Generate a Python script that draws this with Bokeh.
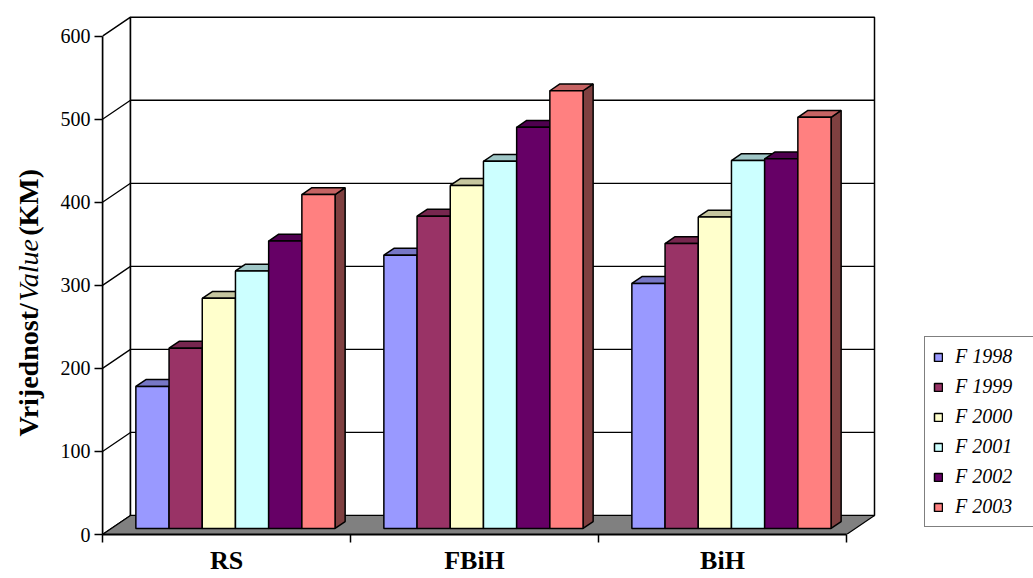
import numpy as np
from bokeh.plotting import figure
from bokeh.layouts import row
from bokeh.models import Range1d, FixedTicker, Legend, LegendItem
from bokeh.core.properties import value
from bokeh.embed import file_html
from bokeh.resources import INLINE

# ---------------- data ----------------
categories = ["RS", "FBiH", "BiH"]
series = ["F 1998", "F 1999", "F 2000", "F 2001", "F 2002", "F 2003"]
f1998 = [171, 329, 295]
f1999 = [217, 376, 343]
f2000 = [277, 413, 375]
f2001 = [310, 442, 443]
f2002 = [346, 483, 445]
f2003 = [402, 527, 495]
y_ticks = [0, 100, 200, 300, 400, 500, 600]
values = [f1998, f1999, f2000, f2001, f2002, f2003]
title_parts = ["Vrijednost/", "Value", " (KM)"]
title_styles = ["bold", "italic", "bold"]

front_colors = ["#9999FF", "#993366", "#FFFFCC", "#CCFFFF", "#660066", "#FF8080"]


def shade(hexcol, k):
    h = hexcol.lstrip("#")
    r, g, b = (int(h[i:i + 2], 16) for i in (0, 2, 4))
    return "#%02x%02x%02x" % (int(r * k), int(g * k), int(b * k))


top_colors = [shade(c, 0.78) for c in front_colors]
side_colors = [shade(c, 0.5) for c in front_colors]

# ---------------- layout ----------------
W, H = 1033, 578
TW = 50                      # width of the title strip
FL, FB = 52, 44
PX_X = 248.0                 # px per category
PX_Y = 498.3 / 600.0         # px per value unit
MW = W - TW
frame_w = MW - FL
frame_h = H - FB

# ---- main chart ----
p = figure(width=MW, height=H, output_backend="svg", toolbar_location=None,
           x_range=Range1d(0, frame_w / PX_X), y_range=Range1d(0, frame_h / PX_Y),
           min_border_left=FL, min_border_right=0, min_border_top=0,
           min_border_bottom=FB, background_fill_color="white",
           border_fill_color="white", outline_line_color=None)
p.xgrid.visible = False
p.ygrid.visible = False

# ---- title strip (mixed-style rotated axis title), shares the value scale ----
t = figure(width=TW, height=H, output_backend="svg", toolbar_location=None,
           x_range=Range1d(0, TW), y_range=p.y_range,
           min_border_left=0, min_border_right=0, min_border_top=0,
           min_border_bottom=FB, x_axis_location=None, y_axis_location=None,
           outline_line_color=None, background_fill_color="white",
           border_fill_color="white")
t.xgrid.visible = False
t.ygrid.visible = False
TF = 28
em_w = [4.833, 2.333, 2.638]
ypos = 98.0 / PX_Y           # start of the title, 98 px above the value axis origin
for txt, sty, em in zip(title_parts, title_styles, em_w):
    t.text(x=[28], y=[ypos], text=[txt], angle=np.pi / 2, text_align="left",
           text_baseline="middle", text_font=value("Liberation Serif"),
           text_font_style=sty, text_font_size="%dpx" % TF, text_color="black")
    ypos += em * TF / PX_Y

ncat = len(categories)
top_v = y_ticks[-1]
ddx = 28.0 / PX_X
ddy = 19.0 / PX_Y

# walls and floor
p.patch([0, ddx, ddx, 0], [0, ddy, top_v + ddy, top_v], fill_color="white",
        line_color="black", line_width=1.5)
p.patch([ddx, ncat + ddx, ncat + ddx, ddx], [ddy, ddy, top_v + ddy, top_v + ddy],
        fill_color="white", line_color="black", line_width=1.5)
p.multi_line([[0, ddx, ncat + ddx] for v in y_ticks[1:-1]],
             [[v, v + ddy, v + ddy] for v in y_ticks[1:-1]],
             line_color="black", line_width=1.3)
p.patch([0, ncat, ncat + ddx, ddx], [0, 0, ddy, ddy], fill_color="#808080",
        line_color="black", line_width=1.2)

# bars
nser = len(series)
w = 33.2 / PX_X
gap = (1 - nser * w) / 2
fdx, fdy = 0.32 * ddx, 0.32 * ddy
bdx, bdy = 0.36 * ddx, 0.36 * ddy

items = []
for j in range(nser):
    vals = values[j]
    x0 = [i + gap + j * w + fdx for i in range(ncat)]
    x1 = [a + w for a in x0]
    y1 = [fdy + v for v in vals]
    side_xs = [[b, b + bdx, b + bdx, b] for b in x1]
    side_ys = [[fdy, fdy + bdy, tt + bdy, tt] for tt in y1]
    top_xs = [[a, b, b + bdx, a + bdx] for a, b in zip(x0, x1)]
    top_ys = [[tt, tt, tt + bdy, tt + bdy] for tt in y1]
    p.patches(side_xs, side_ys, fill_color=side_colors[j], line_color="black", line_width=1.5)
    p.patches(top_xs, top_ys, fill_color=top_colors[j], line_color="black", line_width=1.5)
    r = p.quad(left=x0, right=x1, bottom=[fdy] * ncat, top=y1,
               fill_color=front_colors[j], line_color="black", line_width=1.5)
    items.append(LegendItem(label=series[j], renderers=[r]))

# axes
xa = p.xaxis[0]
centers = [i + 0.5 for i in range(ncat)]
xa.ticker = FixedTicker(ticks=centers, minor_ticks=list(range(ncat + 1)))
xa.major_label_overrides = {c: lab for c, lab in zip(centers, categories)}
xa.bounds = (0, ncat)
xa.axis_line_color = "black"
xa.axis_line_width = 2
xa.major_tick_out = 0
xa.major_tick_in = 0
xa.major_tick_line_color = None
xa.minor_tick_out = 8
xa.minor_tick_in = 0
xa.minor_tick_line_color = "black"
xa.minor_tick_line_width = 1.5
xa.major_label_text_font = "Liberation Serif"
xa.major_label_text_font_style = "bold"
xa.major_label_text_font_size = "26px"
xa.major_label_text_color = "black"
xa.major_label_standoff = 3

ya = p.yaxis[0]
ya.ticker = FixedTicker(ticks=y_ticks, minor_ticks=[])
ya.bounds = (0, top_v)
ya.axis_line_color = "black"
ya.axis_line_width = 1.5
ya.major_tick_out = 8
ya.major_tick_in = 0
ya.major_tick_line_width = 1.5
ya.minor_tick_out = 0
ya.minor_tick_in = 0
ya.major_label_text_font = "Liberation Serif"
ya.major_label_text_font_size = "20px"
ya.major_label_text_color = "black"
ya.major_label_standoff = 4

legend = Legend(items=items, location=(822, 7), orientation="vertical",
                border_line_color="black", border_line_width=1.5,
                background_fill_color="white", background_fill_alpha=1.0,
                label_text_font="Liberation Serif", label_text_font_style="italic",
                label_text_font_size="20px", label_text_color="black",
                glyph_width=10, glyph_height=10, label_height=20, label_width=100,
                spacing=7, padding=8, label_standoff=12, margin=0)
p.add_layout(legend)

layout = row(t, p)
open("out.html", "w").write(file_html(layout, INLINE))
